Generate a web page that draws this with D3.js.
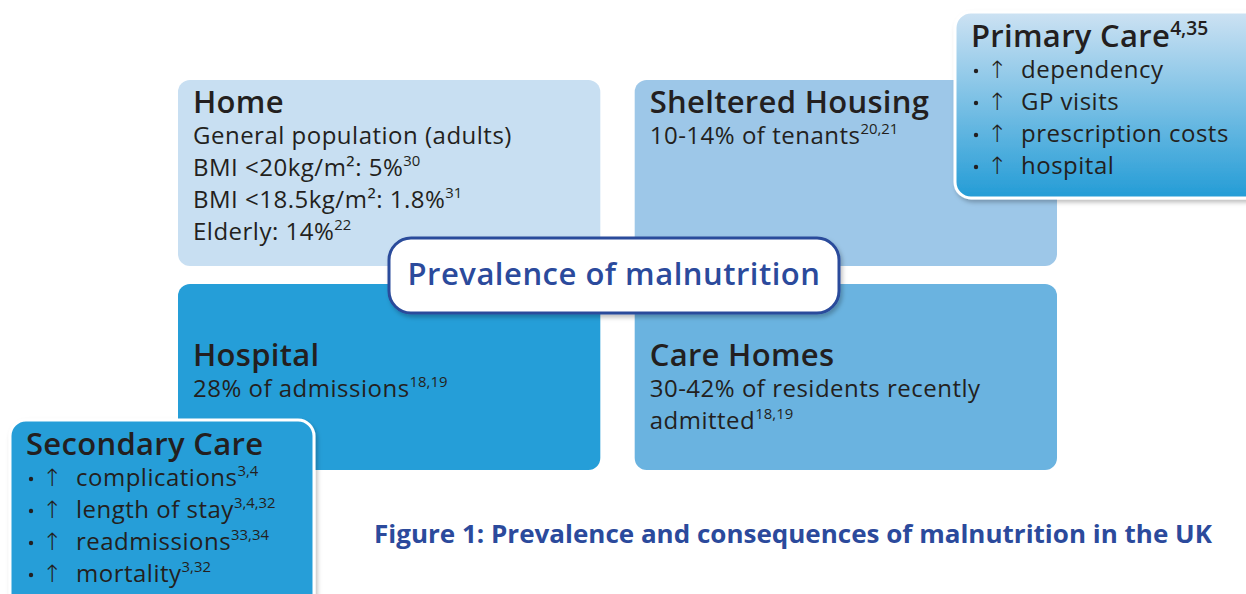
<!DOCTYPE html>
<html>
<head>
<meta charset="utf-8">
<script src="https://cdn.jsdelivr.net/npm/d3@7"></script>
<style>
  body { margin: 0; background: #fff; }
  svg { display: block; }
</style>
</head>
<body>
<svg width="1246" height="594"></svg>
<script>
// quadrant labels and text ("^" marks a superscript reference)
const settings = ["Home", "Sheltered Housing", "Hospital", "Care Homes"];
const settingLines = [
  ["General population (adults)", "BMI <20kg/m²: 5%^30", "BMI <18.5kg/m²: 1.8%^31", "Elderly: 14%^22"],
  ["10-14% of tenants^20,21"],
  ["28% of admissions^18,19"],
  ["30-42% of residents recently", "admitted^18,19"]
];
const settingColors = ["#c8dff2", "#9dc7e8", "#259ed8", "#6ab3e0"];
const gridCols = ["left", "right"];
const gridRows = ["top", "bottom"];

const primaryTitle = "Primary Care^4,35";
const primaryItems = ["dependency", "GP visits", "prescription costs", "hospital"];
const secondaryTitle = "Secondary Care";
const secondaryItems = ["complications^3,4", "length of stay^3,4,32", "readmissions^33,34", "mortality^3,32"];

const centreLabel = "Prevalence of malnutrition";
const caption = "Figure 1: Prevalence and consequences of malnutrition in the UK";

const svg = d3.select("svg");
const font = "'Open Sans', sans-serif";
const ink = "#231f20";
const navy = "#2b4a9c";

const defs = svg.append("defs");
const grad = defs.append("linearGradient").attr("id", "pcGrad")
  .attr("x1", 0).attr("y1", 0).attr("x2", 0).attr("y2", 1);
grad.append("stop").attr("offset", "0%").attr("stop-color", "#cde2f3");
grad.append("stop").attr("offset", "100%").attr("stop-color", "#239cd6");
const shadow = defs.append("filter").attr("id", "shadow")
  .attr("x", "-10%").attr("y", "-10%").attr("width", "130%").attr("height", "140%");
shadow.append("feDropShadow").attr("dx", 2).attr("dy", 3).attr("stdDeviation", 2)
  .attr("flood-color", "#000").attr("flood-opacity", 0.25);

// 2x2 grid
const x = d3.scaleBand().domain(gridCols).range([178, 1057]).paddingInner(0.0753);
const y = d3.scaleBand().domain(gridRows).range([80, 470]).paddingInner(0.0876);

function addText(sel, str, size, weight, fill, spacing) {
  const parts = str.split("^");
  sel.attr("font-family", font).attr("font-size", size).attr("font-weight", weight)
    .attr("fill", fill).attr("letter-spacing", spacing || 0);
  sel.append("tspan").text(parts[0]);
  if (parts[1]) {
    sel.append("tspan").attr("font-size", size * 0.62).attr("dy", -size * 0.4)
      .attr("letter-spacing", 0).text(parts[1]);
  }
}

const quads = svg.selectAll("g.quad")
  .data(settings.map((s, i) => ({ name: s, lines: settingLines[i], color: settingColors[i],
    col: gridCols[i % 2], row: gridRows[Math.floor(i / 2)] })))
  .enter().append("g").attr("class", "quad")
  .attr("transform", d => `translate(${x(d.col)},${y(d.row)})`);

quads.append("rect")
  .attr("width", x.bandwidth()).attr("height", y.bandwidth())
  .attr("rx", 12).attr("fill", d => d.color);

quads.each(function(d) {
  const g = d3.select(this);
  const top = d.row === "top" ? 33 : 82;
  addText(g.append("text").attr("x", 15).attr("y", top), d.name, 31, 600, ink, 0.3);
  d.lines.forEach((l, j) => {
    addText(g.append("text").attr("x", 15).attr("y", top + 31 + j * 32), l, 24, 400, ink, 0.5);
  });
});

// centre label
const cg = svg.append("g").attr("transform", "translate(389,238)");
cg.append("rect").attr("width", 450).attr("height", 75).attr("rx", 22)
  .attr("fill", "#fff").attr("stroke", "#2a4b9b").attr("stroke-width", 3)
  .attr("filter", "url(#shadow)");
cg.append("text").attr("x", 225).attr("y", 47).attr("text-anchor", "middle")
  .attr("font-family", font).attr("font-size", 31).attr("font-weight", 600)
  .attr("letter-spacing", 0.5).attr("fill", navy).text(centreLabel);

// side callouts
function callout(tx, ty, w, h, fill, title, items) {
  const g = svg.append("g").attr("transform", `translate(${tx},${ty})`);
  g.append("rect").attr("width", w).attr("height", h).attr("rx", 16)
    .attr("fill", fill).attr("stroke", "#fff").attr("stroke-width", 3)
    .attr("filter", "url(#shadow)");
  addText(g.append("text").attr("x", 16).attr("y", 35), title, 31, 600, ink, 0.3);
  items.forEach((it, j) => {
    const ly = 66 + j * 32;
    g.append("circle").attr("cx", 21).attr("cy", ly - 7).attr("r", 2.2).attr("fill", ink);
    g.append("text").attr("x", 32).attr("y", ly)
      .attr("font-family", "'DejaVu Sans', sans-serif").attr("font-size", 24)
      .attr("font-weight", 300).attr("fill", ink).text("↑");
    addText(g.append("text").attr("x", 66).attr("y", ly), it, 24, 400, ink, 0.5);
  });
  return g;
}
callout(955, 12, 310, 186, "url(#pcGrad)", primaryTitle, primaryItems);
callout(10, 420, 304, 200, "#259ed8", secondaryTitle, secondaryItems);

// caption
svg.append("text").attr("x", 374).attr("y", 543)
  .attr("font-family", font).attr("font-size", 25).attr("font-weight", 700)
  .attr("fill", navy).attr("textLength", 838).attr("lengthAdjust", "spacingAndGlyphs")
  .text(caption);
</script>
</body>
</html>
